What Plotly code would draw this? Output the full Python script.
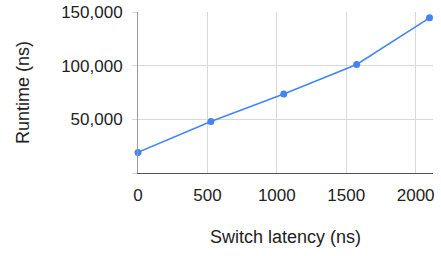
import plotly.graph_objects as go

switch_latency = [0, 525, 1050, 1575, 2100]
runtime = [19200, 48000, 73600, 101100, 144600]

y_tickvals = [0, 50000, 100000, 150000]
y_ticktext = ["", "50,000", "100,000", "150,000"]
x_tickvals = [0, 500, 1000, 1500, 2000]
x_ticktext = ["0", "500", "1000", "1500", "2000"]

FONT = "Liberation Sans, Arial, sans-serif"

fig = go.Figure(
    go.Scatter(
        x=switch_latency,
        y=runtime,
        mode="lines+markers",
        line=dict(color="#4285F4", width=1.5),
        marker=dict(color="#4285F4", size=7),
        cliponaxis=False,
    )
)

fig.update_layout(
    width=441,
    height=256,
    margin=dict(l=138, r=8, t=12, b=83),
    paper_bgcolor="white",
    plot_bgcolor="white",
    showlegend=False,
    font=dict(family=FONT, size=17, color="#222222"),
)

fig.update_xaxes(
    range=[0, 2125],
    tickvals=x_tickvals,
    ticktext=x_ticktext,
    automargin=False,
    showgrid=True,
    gridcolor="#d9d9d9",
    gridwidth=1,
    zeroline=False,
    showline=True,
    linecolor="#555555",
    linewidth=1,
    ticks="",
    ticklabelstandoff=7,
    tickfont=dict(size=17, color="#222222"),
    title=dict(text="Switch latency (ns)", font=dict(size=18, color="#222222"), standoff=25),
)

fig.update_yaxes(
    range=[0, 150000],
    tickvals=y_tickvals,
    ticktext=y_ticktext,
    automargin=False,
    showgrid=True,
    gridcolor="#d9d9d9",
    gridwidth=1,
    zeroline=False,
    showline=True,
    linecolor="#999999",
    linewidth=1,
    ticks="outside",
    ticklen=5,
    tickcolor="#d9d9d9",
    ticklabelstandoff=6,
    tickfont=dict(size=17, color="#222222"),
    title=dict(text="Runtime (ns)", font=dict(size=18, color="#222222"), standoff=26),
)

fig.write_html(
    "out.html",
    config={"displayModeBar": False},
    post_script="document.body.style.margin='0';document.body.style.overflow='hidden';",
)
